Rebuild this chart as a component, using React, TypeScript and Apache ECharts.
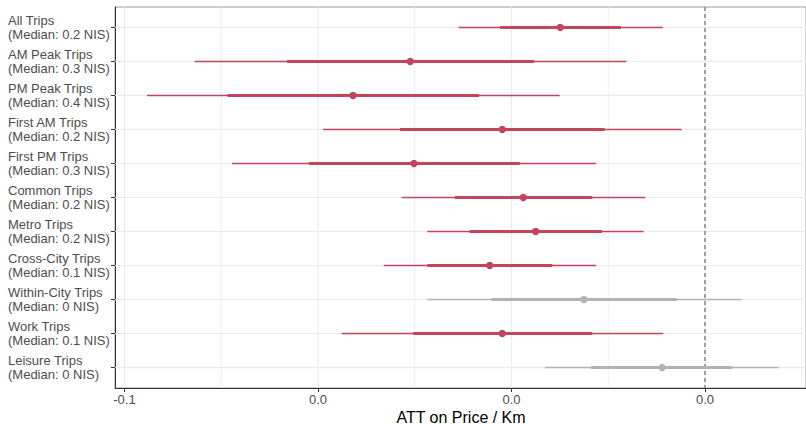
import React, { useEffect, useRef } from "react";
import * as echarts from "echarts";

// Trip groups, top to bottom
const categories = [
  "All Trips",
  "AM Peak Trips",
  "PM Peak Trips",
  "First AM Trips",
  "First PM Trips",
  "Common Trips",
  "Metro Trips",
  "Cross-City Trips",
  "Within-City Trips",
  "Work Trips",
  "Leisure Trips",
];
const medians = ["0.2", "0.3", "0.4", "0.2", "0.3", "0.2", "0.2", "0.1", "0", "0.1", "0"];

// ATT point estimates and interval bounds (outer = wide interval, inner = narrow interval)
const estimates = [-0.01496, -0.03046, -0.03638, -0.02095, -0.03008, -0.01878, -0.0175, -0.02225, -0.01251, -0.02095, -0.00444];
const outerLow = [-0.02546, -0.05276, -0.05767, -0.03948, -0.04889, -0.03135, -0.0287, -0.03321, -0.0287, -0.03755, -0.01654];
const outerHigh = [-0.00437, -0.00813, -0.01502, -0.00241, -0.01127, -0.00617, -0.00634, -0.01127, 0.00379, -0.00431, 0.00762];
const innerLow = [-0.02119, -0.0432, -0.04935, -0.03152, -0.04093, -0.02584, -0.02432, -0.0287, -0.02205, -0.03015, -0.01178];
const innerHigh = [-0.00868, -0.01767, -0.02336, -0.01037, -0.01915, -0.01165, -0.01065, -0.01578, -0.00293, -0.01165, 0.00282];

// x-axis ticks and their printed labels
const xTicks = [-0.06, -0.04, -0.02, 0];
const xTickLabels = ["-0.1", "0.0", "0.0", "0.0"];
const xMinorTicks = [-0.05, -0.03, -0.01, 0.01];
const xTitle = "ATT on Price / Km";

const X_MIN = -0.06098;
const X_MAX = 0.01044;

const RED = "#C2445F";
const GRAY = "#B3B3B3";
const FONT = "Liberation Sans, Arial, Helvetica, sans-serif";

export default function App() {
  const ref = useRef<HTMLDivElement>(null);

  useEffect(() => {
    if (!ref.current) return;
    const chart = echarts.init(ref.current, undefined, { renderer: "svg" });

    const rowIdx = categories.map((_, i) => i);
    const intervalData = categories.map((_, i) => [
      i,
      outerLow[i],
      outerHigh[i],
      innerLow[i],
      innerHigh[i],
      estimates[i],
    ]);

    const gridData: number[][] = [
      ...xTicks.map((v) => [0, v, 1]),
      ...xMinorTicks.map((v) => [0, v, 0]),
      ...rowIdx.map((i) => [1, i, 1]),
    ];

    const option: any = {
      animation: false,
      grid: {
        left: 115,
        top: 7,
        right: 0,
        bottom: 36,
        outerBoundsMode: "none",
        containLabel: false,
        show: true,
        borderColor: "#9a9a9a",
        borderWidth: 1,
        backgroundColor: "transparent",
      },
      graphic: [
        {
          type: "text",
          x: 461,
          y: 417,
          style: {
            text: xTitle,
            fill: "#000",
            fontSize: 16,
            fontFamily: FONT,
            textAlign: "center",
            textVerticalAlign: "middle",
          },
        },
      ],
      xAxis: {
        type: "value",
        min: X_MIN,
        max: X_MAX,
        axisLine: { show: true, onZero: false, lineStyle: { color: "#333", width: 1 } },
        axisTick: {
          show: true,
          length: 4,
          customValues: xTicks,
          lineStyle: { color: "#333" },
        },
        axisLabel: {
          customValues: xTicks,
          color: "#4D4D4D",
          fontSize: 13,
          fontFamily: FONT,
          margin: 5,
          formatter: (v: number) => {
            const k = xTicks.findIndex((t) => Math.abs(t - v) < 1e-9);
            return k >= 0 ? xTickLabels[k] : "";
          },
        },
        splitLine: { show: false },
      },
      yAxis: {
        type: "value",
        inverse: true,
        min: -0.6,
        max: 10.6,
        axisLine: { show: true, onZero: false, lineStyle: { color: "#333", width: 1 } },
        axisTick: {
          show: true,
          length: 4,
          customValues: rowIdx,
          lineStyle: { color: "#333" },
        },
        axisLabel: {
          customValues: rowIdx,
          align: "left",
          margin: 107,
          color: "#4D4D4D",
          fontSize: 13,
          lineHeight: 14,
          fontFamily: FONT,
          formatter: (v: number) => {
            const i = Math.round(v);
            return `${categories[i]}\n(Median: ${medians[i]} NIS)`;
          },
        },
        splitLine: { show: false },
      },
      series: [
        {
          type: "custom",
          name: "grid",
          silent: true,
          z: 1,
          data: gridData,
          renderItem: (params: any, api: any) => {
            const cs = params.coordSys;
            const kind = api.value(0);
            const v = api.value(1);
            const major = api.value(2) === 1;
            if (kind === 0) {
              const x = api.coord([v, 0])[0];
              return {
                type: "line",
                shape: { x1: x, y1: cs.y, x2: x, y2: cs.y + cs.height },
                style: { stroke: "#EBEBEB", lineWidth: major ? 1.2 : 0.8 },
              };
            }
            const y = api.coord([X_MIN, v])[1];
            return {
              type: "line",
              shape: { x1: cs.x, y1: y, x2: cs.x + cs.width, y2: y },
              style: { stroke: "#EBEBEB", lineWidth: 1.2 },
            };
          },
        },
        {
          type: "custom",
          name: "zero",
          silent: true,
          z: 2,
          data: [[0]],
          renderItem: (params: any, api: any) => {
            const cs = params.coordSys;
            const x = api.coord([api.value(0), 0])[0];
            return {
              type: "line",
              shape: { x1: x, y1: cs.y, x2: x, y2: cs.y + cs.height },
              style: { stroke: "#6b6b6b", lineWidth: 1.2, lineDash: [4, 3] },
            };
          },
        },
        {
          type: "custom",
          name: "ATT",
          z: 3,
          data: intervalData,
          renderItem: (params: any, api: any) => {
            const y = api.value(0);
            const oLo = api.coord([api.value(1), y]);
            const oHi = api.coord([api.value(2), y]);
            const iLo = api.coord([api.value(3), y]);
            const iHi = api.coord([api.value(4), y]);
            const est = api.coord([api.value(5), y]);
            const color = api.value(2) < 0 ? RED : GRAY;
            return {
              type: "group",
              children: [
                {
                  type: "line",
                  shape: { x1: oLo[0], y1: oLo[1], x2: oHi[0], y2: oHi[1] },
                  style: { stroke: color, lineWidth: 1.5 },
                },
                {
                  type: "line",
                  shape: { x1: iLo[0], y1: iLo[1], x2: iHi[0], y2: iHi[1] },
                  style: { stroke: color, lineWidth: 3 },
                },
                {
                  type: "circle",
                  shape: { cx: est[0], cy: est[1], r: 3.7 },
                  style: { fill: color },
                },
              ],
            };
          },
        },
      ],
    };

    chart.setOption(option);
    return () => chart.dispose();
  }, []);

  return <div ref={ref} style={{ width: 806, height: 424, position: "absolute", left: 0, top: 0, background: "#fff" }} />;
}
